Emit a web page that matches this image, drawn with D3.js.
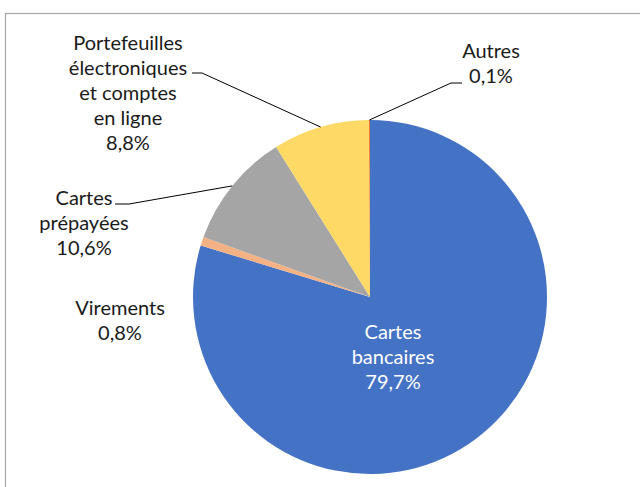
<!DOCTYPE html>
<html>
<head>
<meta charset="utf-8">
<script src="https://cdn.jsdelivr.net/npm/d3@7"></script>
<style>
  html, body { margin: 0; padding: 0; background: #fff; }
  svg { display: block; }
  text { font-family: Lato, "Open Sans", sans-serif; }
</style>
</head>
<body>
<svg id="chart" width="640" height="487"></svg>
<script>
// ---- data ----
const categories = ["Cartes bancaires", "Virements", "Cartes prépayées", "Portefeuilles électroniques et comptes en ligne", "Autres"];
const values = [79.7, 0.8, 10.6, 8.8, 0.1];
const labelNames = [["Cartes", "bancaires"], ["Virements"], ["Cartes", "prépayées"], ["Portefeuilles", "électroniques", "et comptes", "en ligne"], ["Autres"]];
const colors = ["#4472C4", "#F4B183", "#A5A5A5", "#FFD966", "#ED7D31"];

// ---- layout ----
const W = 640, H = 487;
const cx = 370, cy = 297, R = 177;
const fontSize = 20, lineH = 25;
const labelLayout = [
  { x: 393, y: 339, fill: "#ffffff" },
  { x: 120, y: 315, fill: "#1a1a1a" },
  { x: 84,  y: 205, fill: "#1a1a1a" },
  { x: 128, y: 50,  fill: "#1a1a1a" },
  { x: 491, y: 58,  fill: "#1a1a1a" }
];
// leader lines: [label end, elbow] then to arc midpoint
const leaders = { 2: [[115, 204], [129, 204]], 3: [[192, 73], [202, 73]], 4: [[462, 83], [451, 83]] };

const fmt = v => d3.format(".1f")(v).replace(".", ",") + "%";

const svg = d3.select("#chart");

// frame
svg.append("rect")
  .attr("x", 5.5).attr("y", 13.5)
  .attr("width", 800).attr("height", 600)
  .attr("fill", "none").attr("stroke", "#a6a6a6").attr("stroke-width", 1.2);

const pie = d3.pie().sort(null).value(d => d).startAngle(0).endAngle(2 * Math.PI);
const arcs = pie(values);
const arc = d3.arc().innerRadius(0).outerRadius(R);

const g = svg.append("g").attr("transform", `translate(${cx},${cy})`);
g.selectAll("path.slice")
  .data(arcs)
  .join("path")
  .attr("class", "slice")
  .attr("d", arc)
  .attr("fill", (d, i) => colors[i]);

// leader lines
Object.keys(leaders).forEach(k => {
  const i = +k;
  const a = (arcs[i].startAngle + arcs[i].endAngle) / 2;
  const px = cx + R * Math.sin(a), py = cy - R * Math.cos(a);
  const pts = leaders[k].concat([[px, py]]);
  svg.append("path")
    .attr("d", d3.line()(pts))
    .attr("fill", "none")
    .attr("stroke", "#000")
    .attr("stroke-width", 1);
});

// labels
labelNames.forEach((names, i) => {
  const lines = names.concat([fmt(values[i])]);
  const L = labelLayout[i];
  const t = svg.append("text")
    .attr("text-anchor", "middle")
    .attr("font-size", fontSize)
    .attr("fill", L.fill);
  lines.forEach((s, j) => {
    t.append("tspan").attr("x", L.x).attr("y", L.y + j * lineH).text(s);
  });
});
</script>
</body>
</html>
